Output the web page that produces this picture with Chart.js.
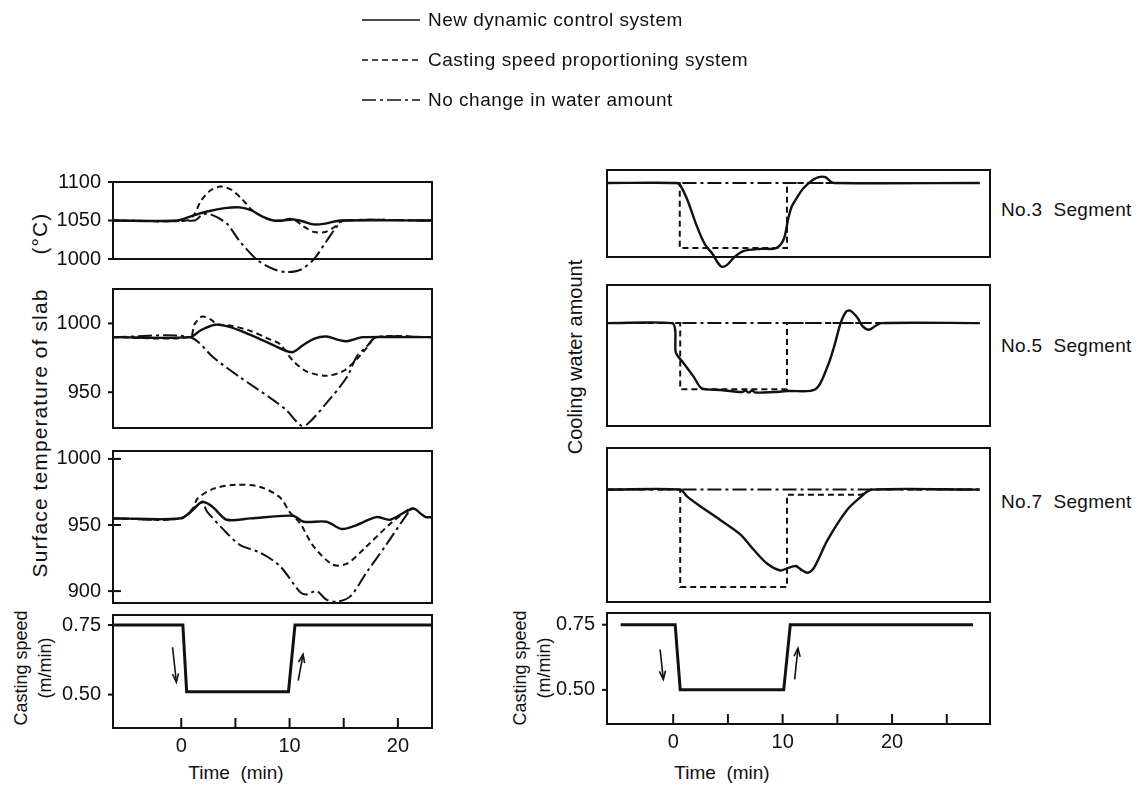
<!DOCTYPE html>
<html>
<head>
<meta charset="utf-8">
<script src="https://cdn.jsdelivr.net/npm/chart.js@4"></script>
<style>
  body { margin: 0; background: #fff; width: 1144px; height: 788px; position: relative; overflow: hidden;
         font-family: "Liberation Sans", Arial, sans-serif; color: #111; }
  canvas { position: absolute; }
  .t { position: absolute; white-space: nowrap; line-height: 20px; }
  .lg { font-size: 19px; letter-spacing: 0.5px; left: 428px; }
  .seg { font-size: 19px; letter-spacing: 0.3px; left: 1001px; }
  .rot { transform: translate(-50%, -50%) rotate(-90deg); }
  .ctr { transform: translate(-50%, -50%); }
</style>
</head>
<body>
<canvas id="legendLines" width="1144" height="120" style="left:0;top:0"></canvas>
<div class="t lg" style="top:10px">New dynamic control system</div>
<div class="t lg" style="top:50px">Casting speed proportioning system</div>
<div class="t lg" style="top:90px">No change in water amount</div>

<div class="t rot" style="left:40px;top:395px;font-size:21px;letter-spacing:1.1px">Surface temperature of slab<span style="display:inline-block;width:34px"></span>(°C)</div>
<div class="t rot" style="left:21px;top:668px;font-size:18px">Casting speed</div>
<div class="t rot" style="left:45px;top:668px;font-size:18px">(m/min)</div>
<div class="t rot" style="left:575px;top:357px;font-size:20px">Cooling water amount</div>
<div class="t rot" style="left:520px;top:668px;font-size:18px">Casting speed</div>
<div class="t rot" style="left:544px;top:668px;font-size:18px">(m/min)</div>

<div class="t seg" style="top:200px">No.3&nbsp; Segment</div>
<div class="t seg" style="top:336px">No.5&nbsp; Segment</div>
<div class="t seg" style="top:492px">No.7&nbsp; Segment</div>

<div class="t ctr" style="left:236px;top:773px;font-size:19px">Time&nbsp; (min)</div>
<div class="t ctr" style="left:722px;top:773px;font-size:19px">Time&nbsp; (min)</div>

<script>
// time axis ticks (min)
const timeLabels = [0, 10, 20];
const timeMarks = [0, 5, 10, 15, 20, 25];

// left column: surface temperature of slab (°C), [time, value]
const lp1Ticks = [1000, 1050, 1100];
const lp1New = [[-6.3,1050],[-0.4,1050],[1.0,1056],[2.5,1062],[4,1066],[5.4,1067],[6.5,1063],[7.5,1055],[8.5,1050],[9.4,1050],[10,1052],[10.5,1051],[11.2,1049],[12.2,1045],[13.3,1046],[14.7,1050],[23.2,1050]];
const lp1Prop = [[-6.3,1050],[0.5,1050],[1.2,1058],[1.8,1075],[2.6,1088],[3.6,1094],[4.6,1090],[5.6,1078],[6.5,1064],[7.5,1055],[8.5,1050],[10.5,1050],[11.3,1042],[12.3,1035],[13.3,1035],[14.2,1042],[14.9,1050],[23.2,1050]];
const lp1None = [[-6.3,1050],[1.2,1050],[2.0,1058],[2.7,1058],[4.2,1046],[5.4,1023],[7.0,999],[8.5,987],[9.7,983],[11.0,986],[12.2,999],[13.4,1023],[14.35,1042],[15.0,1050],[23.2,1050]];

const lp2Ticks = [950, 1000];
const lp2New = [[-6.3,990],[0.8,990],[1.8,995],[3.1,999],[4.2,998],[6,993],[8,986],[10.2,979],[11.2,984],[12.3,989],[13.4,990.5],[14.5,988],[15.3,987],[16.2,989],[16.8,990],[23.2,990]];
const lp2Prop = [[-6.3,990],[0.8,990],[1.2,999],[1.9,1005],[2.7,1003],[3.3,999.5],[4.5,998.5],[6.4,994.5],[8,989],[9.1,985],[10.3,973],[11.6,965],[13.4,962],[15,965.5],[16.2,974],[17.1,982],[18,990],[23.2,990]];
const lp2None = [[-6.3,990],[0.8,990],[3.0,975],[5.4,961],[8.2,946],[9.7,937],[11.0,926],[11.6,926.5],[13.4,942],[15.3,961],[16.2,976],[17.1,983],[18,990],[23.2,990]];

const lp3Ticks = [900, 950, 1000];
const lp3New = [[-6.3,955],[-0.1,955],[1.0,961],[1.9,967.5],[2.5,966],[3.0,963],[4.2,954],[6.4,955],[10.3,957],[11.3,952.5],[13.4,952.5],[14.8,947],[16.2,950],[18,956],[19.3,954],[21.4,962.5],[22.2,958],[22.6,956],[23.2,956]];
const lp3Prop = [[-6.3,955],[0,955],[1.1,963],[1.5,970],[3.0,977.5],[5.1,980.5],[7.3,978.8],[9.1,971],[10,960],[11,951],[12.2,934],[14,920],[15.3,920.8],[17.1,933.8],[19.3,951],[21.1,962.5],[21.4,962.5]];
const lp3None = [[-6.3,955],[0,955],[1.9,967],[2.4,960],[4.2,944],[5.4,935],[7.3,929],[9.1,919],[11,899],[11.6,897.5],[12.5,900],[13.4,893.5],[14.35,892],[15.6,896],[17.1,914],[19,936],[21.1,961],[21.4,962.5]];

// casting speed (m/min)
const speedTicks = [0.50, 0.75];
const lp4Speed = [[-6.2,0.75],[0.15,0.75],[0.5,0.51],[9.9,0.51],[10.5,0.75],[23.2,0.75]];
const lp4Arrows = [[-0.8,0.67,-0.45,0.545],[10.8,0.55,11.25,0.645]];

// right column: cooling water amount (relative, 100 = steady level)
const rp1New = [[-6,100],[0.3,100],[0.64,97],[1.3,77],[2.1,44],[2.9,17],[3.6,4],[4.0,-6],[4.4,-13],[4.9,-11],[5.6,0],[6.4,8],[8.0,11],[9.4,12],[10.1,24],[10.5,51],[10.8,67],[11.3,80],[11.9,93],[12.75,104],[13.3,108],[13.9,108],[14.3,103],[14.7,100],[28,100]];
const rp1Prop = [[-6,100],[0.6,100],[0.6,12],[10.4,12],[10.4,100],[28,100]];
const rp1None = [[-6,100],[28,100]];

const rp2New = [[-6,100],[-0.1,100],[0.18,93.5],[0.2,74],[0.34,69],[0.95,61],[1.86,48],[2.6,36.7],[4.3,35],[6.3,33],[6.6,34.5],[6.9,32.5],[7.2,34.5],[7.5,32.5],[9.2,33],[10.4,34],[13,35.7],[14.1,57.8],[14.7,77],[15.3,100],[15.8,111],[16.2,112],[16.85,105],[17.3,97],[17.9,93.5],[18.5,97.4],[19,100],[28,100]];
const rp2Prop = [[-6,100],[0.64,100],[0.64,35.7],[10.4,35.7],[10.4,100],[28,100]];
const rp2None = [[-6,100],[28,100]];

const rp3New = [[-6,100],[0.64,100],[1.26,94],[2.5,85],[4.3,73],[6.15,60],[7.4,46],[8.6,34],[9.8,28],[10.4,30],[11.2,32],[11.65,29],[12.3,26],[12.9,31],[14.1,55],[15.9,82],[17.2,94],[18.1,100],[28,100]];
const rp3Prop = [[-6,100],[0.64,100],[0.64,13.4],[10.4,13.4],[10.4,95.5],[17.2,95.5],[18.1,100],[28,100]];
const rp3None = [[-6,100],[28,100]];

const rp4Speed = [[-4.8,0.75],[0.18,0.75],[0.64,0.50],[10.1,0.50],[10.7,0.75],[27.4,0.75]];
const rp4Arrows = [[-1.2,0.655,-0.9,0.54],[11.1,0.54,11.4,0.66]];

const ink = '#111';
const fam = '"Liberation Sans", Arial, sans-serif';

// legend line samples
const lg = document.getElementById('legendLines').getContext('2d');
lg.strokeStyle = ink; lg.lineWidth = 1.6;
[[[], 20], [[6, 4], 60], [[14, 4, 3, 4], 100]].forEach(([dash, y]) => {
  lg.setLineDash(dash);
  lg.beginPath(); lg.moveTo(362, y); lg.lineTo(420, y); lg.stroke();
});

function arrow(ctx, x0, y0, x1, y1) {
  ctx.beginPath(); ctx.moveTo(x0, y0); ctx.lineTo(x1, y1); ctx.stroke();
  const a = Math.atan2(y1 - y0, x1 - x0), h = 9;
  ctx.beginPath();
  ctx.moveTo(x1 - h * Math.cos(a - 0.35), y1 - h * Math.sin(a - 0.35));
  ctx.lineTo(x1, y1);
  ctx.lineTo(x1 - h * Math.cos(a + 0.35), y1 - h * Math.sin(a + 0.35));
  ctx.stroke();
}

// box + tick marks + arrows
const framePlugin = {
  id: 'frame',
  afterDraw(chart, args, o) {
    const { ctx, chartArea: a, scales } = chart;
    ctx.save();
    ctx.setLineDash([]);
    ctx.strokeStyle = ink; ctx.lineWidth = 2;
    ctx.strokeRect(a.left, a.top, a.right - a.left, a.bottom - a.top);
    (o.yTicks || []).forEach(v => {
      const y = scales.y.getPixelForValue(v);
      ctx.beginPath(); ctx.moveTo(a.left - 5, y); ctx.lineTo(a.left + (o.yIn ? 8 : 0), y); ctx.stroke();
    });
    (o.xMarks || []).forEach(v => {
      const x = scales.x.getPixelForValue(v);
      if (x < a.left + 2 || x > a.right - 2) return;
      ctx.beginPath(); ctx.moveTo(x, a.bottom); ctx.lineTo(x, a.bottom - 10); ctx.stroke();
    });
    ctx.lineWidth = 1.6;
    (o.arrows || []).forEach(([t0, v0, t1, v1]) => {
      arrow(ctx, scales.x.getPixelForValue(t0), scales.y.getPixelForValue(v0),
                 scales.x.getPixelForValue(t1), scales.y.getPixelForValue(v1));
    });
    ctx.restore();
  }
};

const styles = {
  none: { borderDash: [14, 4, 3, 4], borderWidth: 2, tension: 0.3 },
  prop: { borderDash: [6, 4], borderWidth: 2, tension: 0.3 },
  newc: { borderDash: [], borderWidth: 2.4, tension: 0.3 },
  step: { borderDash: [6, 4], borderWidth: 2, tension: 0 },
  speed: { borderDash: [], borderWidth: 3, tension: 0 }
};

function ds(points, st) {
  return Object.assign({
    data: points.map(([x, y]) => ({ x, y })),
    borderColor: ink, pointRadius: 0, fill: false, clip: false
  }, styles[st]);
}

const leftX = [-6.3, 23.15], rightX = [-6.05, 28.95];

const panels = [
  { box: [113, 182, 432, 259], x: leftX, y: [1000, 1100], yTicks: lp1Ticks,
    sets: [ds(lp1None, 'none'), ds(lp1Prop, 'prop'), ds(lp1New, 'newc')] },
  { box: [113, 289, 432, 428], x: leftX, y: [924, 1025], yTicks: lp2Ticks,
    sets: [ds(lp2None, 'none'), ds(lp2Prop, 'prop'), ds(lp2New, 'newc')] },
  { box: [113, 451, 432, 603], x: leftX, y: [891, 1006], yTicks: lp3Ticks, yIn: true,
    sets: [ds(lp3None, 'none'), ds(lp3Prop, 'prop'), ds(lp3New, 'newc')] },
  { box: [113, 615, 432, 728], x: leftX, y: [0.38, 0.786], yTicks: speedTicks, fmt2: true, xLabels: timeLabels,
    arrows: lp4Arrows, sets: [ds(lp4Speed, 'speed')] },
  { box: [607, 170, 990, 257], x: rightX, y: [0, 117.6],
    sets: [ds(rp1None, 'none'), ds(rp1Prop, 'step'), ds(rp1New, 'newc')] },
  { box: [607, 285, 990, 426], x: rightX, y: [0, 137],
    sets: [ds(rp2None, 'none'), ds(rp2Prop, 'step'), ds(rp2New, 'newc')] },
  { box: [607, 448, 990, 602], x: rightX, y: [0, 137],
    sets: [ds(rp3None, 'none'), ds(rp3Prop, 'step'), ds(rp3New, 'newc')] },
  { box: [607, 613, 990, 724], x: rightX, y: [0.369, 0.795], yTicks: speedTicks, fmt2: true, xLabels: timeLabels,
    arrows: rp4Arrows, sets: [ds(rp4Speed, 'speed')] }
];

panels.forEach(p => {
  const [l, t, r, b] = p.box;
  const padL = p.yTicks ? 75 : 4, padR = 12, padT = 24;
  const padB = p.xLabels ? 40 : 24;
  const cv = document.createElement('canvas');
  cv.width = r - l + padL + padR;
  cv.height = b - t + padT + padB;
  cv.style.left = (l - padL) + 'px';
  cv.style.top = (t - padT) + 'px';
  document.body.appendChild(cv);

  new Chart(cv, {
    type: 'line',
    data: { datasets: p.sets },
    options: {
      responsive: false, animation: false, devicePixelRatio: 1,
      layout: { padding: { left: p.yTicks ? 0 : padL, top: padT, right: padR, bottom: p.xLabels ? 0 : padB } },
      plugins: {
        legend: { display: false }, tooltip: { enabled: false },
        frame: { yTicks: p.yTicks, yIn: p.yIn, xMarks: p.xLabels ? timeMarks : null, arrows: p.arrows }
      },
      scales: {
        x: {
          type: 'linear', min: p.x[0], max: p.x[1], display: !!p.xLabels,
          grid: { display: false }, border: { display: false },
          afterBuildTicks: s => { s.ticks = (p.xLabels || []).map(v => ({ value: v })); },
          afterFit: s => { if (p.xLabels) s.height = padB; },
          ticks: { font: { size: 20, family: fam }, color: ink, padding: -2, maxRotation: 0, autoSkip: false,
                   callback: v => String(v) }
        },
        y: {
          type: 'linear', min: p.y[0], max: p.y[1], display: !!p.yTicks,
          grid: { display: false }, border: { display: false },
          afterBuildTicks: s => { s.ticks = (p.yTicks || []).map(v => ({ value: v })); },
          afterFit: s => { if (p.yTicks) s.width = padL; },
          ticks: { font: { size: 20, family: fam }, color: ink, padding: 4,
                   callback: v => p.fmt2 ? v.toFixed(2) : String(v) }
        }
      }
    },
    plugins: [framePlugin]
  });
});
</script>
</body>
</html>
